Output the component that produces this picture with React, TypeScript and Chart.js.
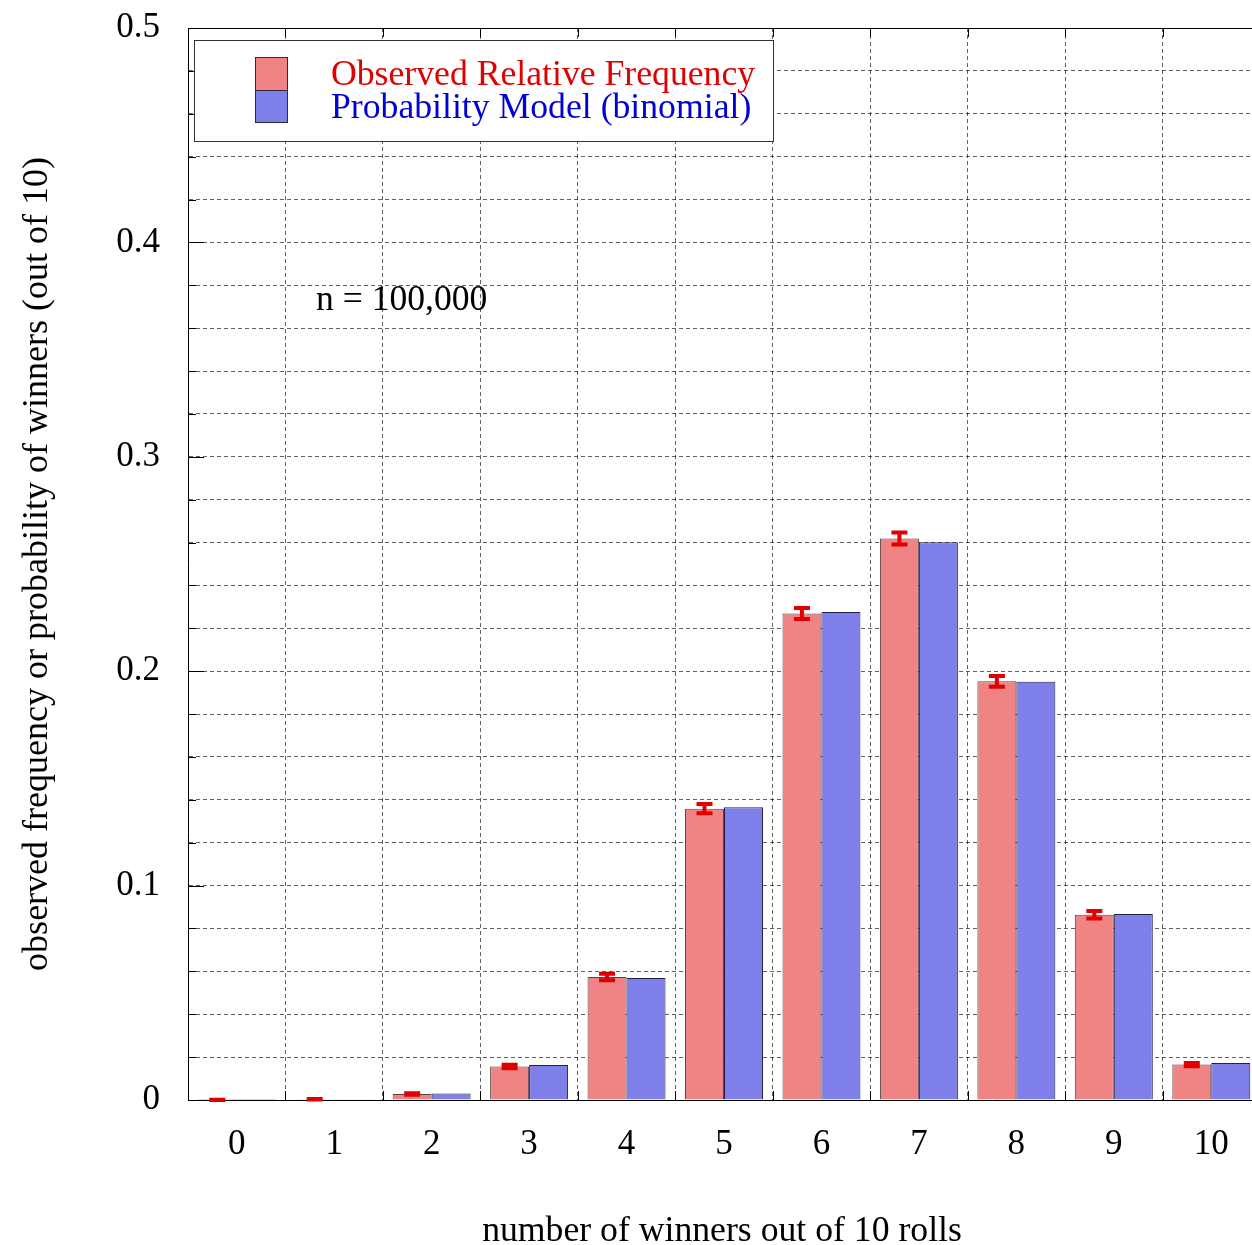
import React, { useEffect, useRef } from "react";
import { Chart, registerables } from "chart.js";

Chart.register(...registerables);

const categories = ["0", "1", "2", "3", "4", "5", "6", "7", "8", "9", "10"];
const observed = [0.00002, 0.0003, 0.0028, 0.0156, 0.0574, 0.1359, 0.2269, 0.2619, 0.1953, 0.0864, 0.0165];
const model = [0.00002, 0.00034, 0.00305, 0.0163, 0.0569, 0.1366, 0.2276, 0.2601, 0.1951, 0.0867, 0.0173];
const observedError = [0.00005, 0.00012, 0.00035, 0.0008, 0.0015, 0.0022, 0.0026, 0.0028, 0.0025, 0.0018, 0.0008];

const legendLabels = ["Observed Relative Frequency", "Probability Model (binomial)"];
const xTitle = "number of winners out of 10 rolls";
const yTitle = "observed frequency or probability of winners (out of 10)";
const note = "n = 100,000";

const FONT = '"Liberation Serif", "Times New Roman", serif';
const RED_FILL = "#f08383";
const BLUE_FILL = "#7f7fe9";
const RED_TEXT = "#e00000";
const BLUE_TEXT = "#0000d8";
const GRID = "rgba(0,0,0,0.62)";

const overlay = {
  id: "overlay",
  afterDatasetsDraw(chart: any) {
    const { ctx, chartArea: ca, scales } = chart;
    const x = scales.x;
    const y = scales.y;
    ctx.save();

    // error bars
    const meta = chart.getDatasetMeta(0);
    ctx.strokeStyle = "#e00000";
    ctx.lineWidth = 4;
    ctx.lineCap = "butt";
    meta.data.forEach((bar: any, i: number) => {
      const v = observed[i];
      const e = observedError[i];
      const yt = y.getPixelForValue(v + e);
      const yb = y.getPixelForValue(v - e);
      const cx = bar.x;
      ctx.beginPath();
      ctx.moveTo(cx, yt);
      ctx.lineTo(cx, yb);
      ctx.moveTo(cx - 8, yt);
      ctx.lineTo(cx + 8, yt);
      ctx.moveTo(cx - 8, yb);
      ctx.lineTo(cx + 8, yb);
      ctx.stroke();
    });

    // top border and tick marks
    ctx.strokeStyle = "#000";
    ctx.lineWidth = 1;
    ctx.beginPath();
    ctx.moveTo(ca.left, Math.round(ca.top) + 0.5);
    ctx.lineTo(ca.right, Math.round(ca.top) + 0.5);
    ctx.stroke();
    ctx.beginPath();
    for (let i = 0; i <= categories.length; i++) {
      const px = Math.round(x.getPixelForValue(i - 0.5)) + 0.5;
      ctx.moveTo(px, ca.top);
      ctx.lineTo(px, ca.top + 9);
      ctx.moveTo(px, ca.bottom);
      ctx.lineTo(px, ca.bottom - 9);
    }
    y.ticks.forEach((t: any) => {
      const py = Math.round(y.getPixelForValue(t.value)) + 0.5;
      const major = Math.round(t.value * 50) % 5 === 0;
      ctx.moveTo(ca.left, py);
      ctx.lineTo(ca.left + (major ? 16 : 8), py);
    });
    ctx.stroke();

    // note
    ctx.fillStyle = "#000";
    ctx.font = `35.6px ${FONT}`;
    ctx.textAlign = "left";
    ctx.textBaseline = "alphabetic";
    ctx.fillText(note, 316, 310);

    // legend
    ctx.fillStyle = "#fff";
    ctx.fillRect(194, 40, 579, 101);
    ctx.strokeStyle = "#333";
    ctx.lineWidth = 1;
    ctx.strokeRect(194.5, 40.5, 579, 101);
    ctx.fillStyle = RED_FILL;
    ctx.fillRect(255, 57, 33, 33);
    ctx.fillStyle = BLUE_FILL;
    ctx.fillRect(255, 90, 33, 33);
    ctx.strokeStyle = "#2a2a3a";
    ctx.strokeRect(255.5, 57.5, 32, 33);
    ctx.strokeRect(255.5, 90.5, 32, 32);
    ctx.font = `35.7px ${FONT}`;
    ctx.fillStyle = RED_TEXT;
    ctx.fillText(legendLabels[0], 331, 85);
    ctx.fillStyle = BLUE_TEXT;
    ctx.fillText(legendLabels[1], 331, 118);

    // axis titles
    ctx.fillStyle = "#000";
    ctx.textAlign = "center";
    ctx.font = `35.7px ${FONT}`;
    ctx.fillText(xTitle, 722, 1241);
    ctx.save();
    ctx.translate(47, (ca.top + ca.bottom) / 2);
    ctx.rotate(-Math.PI / 2);
    ctx.font = `36px ${FONT}`;
    ctx.fillText(yTitle, 0, 0);
    ctx.restore();

    ctx.restore();
  },
};

export default function App() {
  const ref = useRef<HTMLCanvasElement | null>(null);

  useEffect(() => {
    document.body.style.margin = "0";
    document.documentElement.style.overflow = "hidden";
    const canvas = ref.current;
    if (!canvas) return;
    const chart = new Chart(canvas, {
      type: "bar",
      data: {
        labels: categories,
        datasets: [
          {
            label: legendLabels[0],
            data: observed,
            backgroundColor: RED_FILL,
            borderColor: "rgba(60,35,35,0.85)",
            borderWidth: 1,
            categoryPercentage: 0.8,
            barPercentage: 1.0,
          },
          {
            label: legendLabels[1],
            data: model,
            backgroundColor: BLUE_FILL,
            borderColor: "#20204a",
            borderWidth: 1,
            categoryPercentage: 0.8,
            barPercentage: 1.0,
          },
        ],
      },
      options: {
        animation: false,
        responsive: false,
        devicePixelRatio: 1,
        layout: { padding: { top: 28, right: 0, left: 0, bottom: 0 } },
        plugins: {
          legend: { display: false },
          tooltip: { enabled: false },
          title: { display: false },
        },
        scales: {
          x: {
            type: "category",
            offset: true,
            grid: { offset: true, color: GRID, lineWidth: 1, drawTicks: false },
            border: { display: true, color: "#000", width: 1, dash: [4, 3] },
            ticks: {
              color: "#000",
              font: { family: FONT, size: 35 },
              padding: 24,
              maxRotation: 0,
              autoSkip: false,
            },
            afterFit: (scale: any) => {
              scale.height = 145;
              scale.paddingLeft = 0;
              scale.paddingRight = 0;
            },
          },
          y: {
            type: "linear",
            min: 0,
            max: 0.5,
            grid: { color: GRID, lineWidth: 1, drawTicks: false },
            border: { display: true, color: "#000", width: 1, dash: [4, 3] },
            ticks: {
              stepSize: 0.02,
              color: "#000",
              font: { family: FONT, size: 35 },
              padding: 28,
              autoSkip: false,
              callback: (value: any) => {
                const r = Math.round(Number(value) * 50);
                if (r % 5 !== 0) return "";
                return r === 0 ? "0" : (r / 50).toFixed(1);
              },
            },
            afterFit: (scale: any) => {
              scale.width = 188;
              scale.paddingTop = 0;
              scale.paddingBottom = 0;
            },
          },
        },
      },
      plugins: [overlay],
    });
    return () => chart.destroy();
  }, []);

  return (
    <div style={{ position: "fixed", left: 0, top: 0, width: 1252, height: 1245, overflow: "hidden", background: "#fff" }}>
      <canvas ref={ref} width={1260} height={1245} style={{ width: 1260, height: 1245, display: "block" }} />
    </div>
  );
}
